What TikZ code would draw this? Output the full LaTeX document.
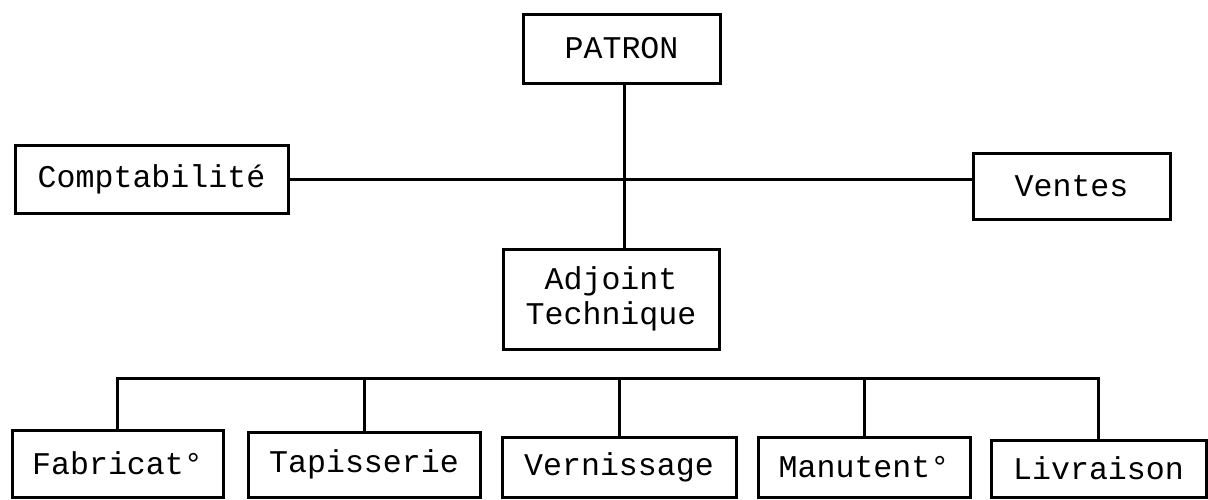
\documentclass[tikz,border=0pt]{standalone}
\usepackage{fontspec}
\usepackage{tikz}
\usetikzlibrary{positioning}
\newfontfamily\orgfont{Liberation Mono}

\begin{document}
\begin{tikzpicture}[x=0.5pt, y=-0.5pt,
    poste/.style={draw, line width=1.5pt, inner sep=0pt, align=center,
        font=\orgfont\fontsize{15.8}{17.5}\selectfont},
    lien/.style={line width=1.5pt}]
        \useasboundingbox (0,0) rectangle (1208,499);

        % direction
        \node[poste, minimum width=98.5pt, minimum height=34.5pt] (patron) at (621.5,48.5) {PATRON};
        \node[poste, minimum width=136.5pt, minimum height=34pt] (compta) at (151.5,179) {Comptabilité};
        \node[poste, minimum width=98.5pt, minimum height=33pt] (ventes) at (1071.5,186) {Ventes};
        \node[poste, minimum width=108pt, minimum height=50pt] (adjoint) at (611,299) {Adjoint\\Technique};

        \draw[lien] (patron.south -| 624,0) -- (adjoint.north -| 624,0);
        \draw[lien] (compta.east) -- (compta.east -| ventes.west);

        % ateliers
        \node[poste, minimum width=105.5pt, minimum height=33.5pt] (fab) at (117.5,463.5) {Fabricat°};
        \node[poste, minimum width=116pt, minimum height=32.5pt] (tapis) at (364,464.5) {Tapisserie};
        \node[poste, minimum width=117pt, minimum height=30pt] (verni) at (619,467) {Vernissage};
        \node[poste, minimum width=106pt, minimum height=30pt] (manut) at (864,467) {Manutent°};
        \node[poste, minimum width=107.5pt, minimum height=28.5pt] (livr) at (1098.5,468.5) {Livraison};

        \coordinate (bus) at (0,378);
        \draw[lien] (fab.north) -- (fab.north |- bus) -- (livr.north |- bus) -- (livr.north);
        \foreach \n in {tapis, verni, manut}
            \draw[lien] (\n.north) -- (\n.north |- bus);
\end{tikzpicture}
\end{document}
